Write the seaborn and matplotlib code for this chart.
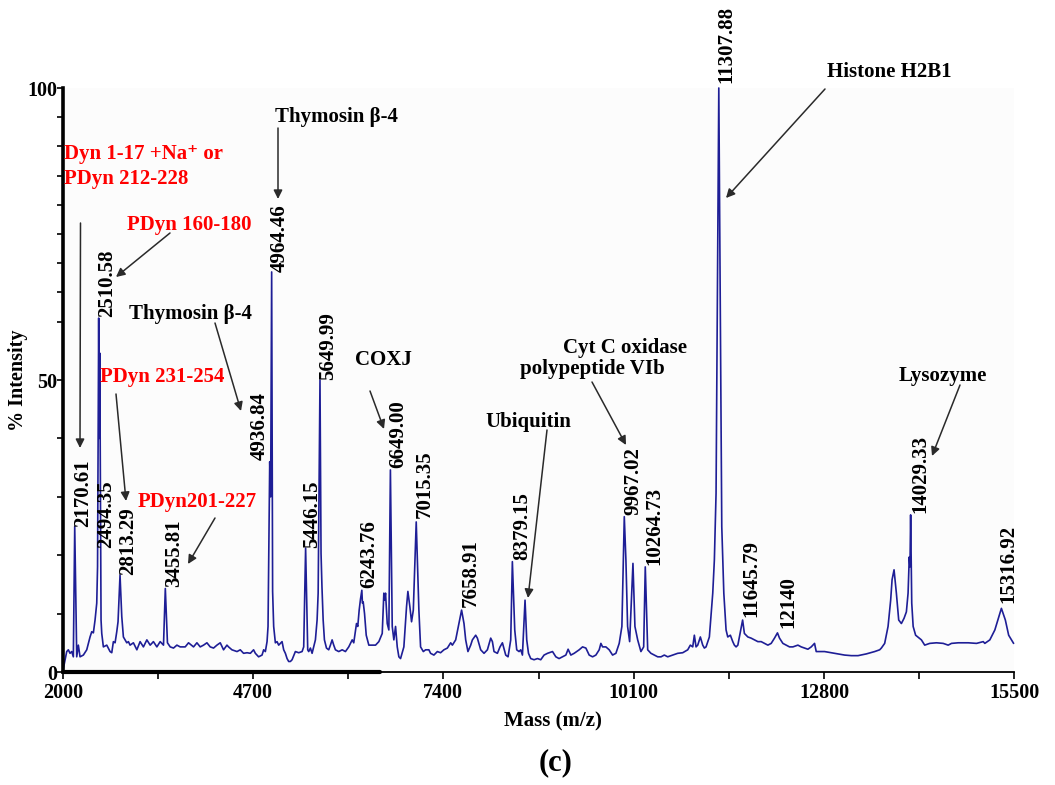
import matplotlib
matplotlib.use("Agg")
import matplotlib.pyplot as plt
import seaborn as sns
import numpy as np
import pandas as pd

# ---------------- data ----------------
# spectrum trace, split into segments (m/z , % intensity)
mz_a = [2000, 2057, 2080, 2104, 2128, 2151, 2170.61, 2199, 2222, 2246, 2293, 2341, 2388, 2412, 2435,
        2459, 2483, 2494.35, 2510.58, 2518, 2526, 2544, 2554, 2577, 2625, 2672, 2696, 2719, 2743, 2767,
        2785, 2813.29, 2838, 2861, 2909, 2932, 2956, 3003, 3052, 3098, 3145, 3194, 3241, 3287, 3336,
        3383, 3430, 3455.81, 3486, 3525, 3572, 3620, 3667, 3738, 3785, 3856, 3904, 3951, 3998, 4046,
        4093, 4140, 4188, 4235, 4282]
pct_a = [0.0, 3.5, 3.8, 3.2, 3.5, 2.6, 24.9, 2.6, 4.6, 2.6, 2.9, 3.8, 6.0, 6.9, 6.7,
         8.9, 11.8, 18.0, 60.6, 40.0, 54.6, 8.9, 6.6, 4.3, 4.6, 3.5, 3.3, 5.2, 5.0, 6.9,
         8.6, 16.6, 9.5, 6.0, 5.0, 5.2, 4.6, 5.0, 3.8, 5.2, 4.3, 5.5, 4.6, 5.2, 4.3,
         5.2, 4.6, 14.3, 5.0, 4.3, 4.1, 4.6, 4.3, 4.3, 5.0, 4.3, 5.0, 4.3, 4.6, 5.0,
         4.3, 4.1, 4.6, 5.0, 3.8]

mz_b = [4330, 4353, 4401, 4473, 4519, 4566, 4615, 4662, 4708, 4733, 4779, 4828, 4851, 4875, 4899,
        4913, 4936.84, 4950, 4964.46, 4978, 4993, 5017, 5041, 5064, 5112, 5135, 5159, 5183, 5206,
        5230, 5254, 5301, 5348, 5396, 5419, 5446.15, 5476, 5490, 5514, 5538, 5561, 5585, 5609, 5624,
        5649.99, 5665, 5678, 5695, 5713, 5742, 5774, 5798, 5822, 5845, 5869, 5916, 5965, 6011, 6058,
        6107, 6129, 6168, 6186, 6206, 6225, 6243.76, 6252, 6263, 6282, 6306, 6343, 6391, 6438, 6485,
        6533]
pct_b = [4.6, 4.3, 3.8, 3.5, 3.8, 3.2, 3.3, 3.2, 3.8, 3.2, 2.6, 2.9, 3.8, 3.5, 5.2,
         7.8, 36.0, 30.0, 68.5, 13.8, 7.8, 5.0, 5.2, 4.6, 5.2, 3.8, 3.2, 2.3, 1.8,
         1.8, 2.1, 3.5, 3.3, 3.5, 4.3, 21.2, 3.8, 3.5, 4.1, 3.2, 4.3, 5.5, 8.9, 13.5,
         50.0, 20.3, 14.6, 8.9, 5.5, 4.1, 3.8, 4.6, 5.5, 4.6, 3.8, 3.5, 3.8, 3.5, 4.3,
         5.5, 5.0, 8.3, 7.8, 10.6, 12.5, 14.0, 11.8, 12.0, 10.0, 6.3, 4.6, 4.6, 4.6, 5.2,
         6.6]

mz_c = [6556, 6566, 6580, 6604, 6627, 6649.00, 6675, 6698, 6722, 6746, 6769, 6793, 6840, 6878, 6897,
        6925, 6949, 6974, 7015.35, 7053, 7077, 7116, 7148, 7195, 7219, 7266, 7315, 7361, 7408, 7457,
        7504, 7528, 7575, 7621, 7658.91, 7693, 7717, 7749, 7788, 7812, 7859, 7883, 7930, 7977, 8025,
        8072, 8096, 8119, 8167, 8204, 8238, 8285, 8318, 8356, 8379.15, 8413, 8441, 8474, 8498, 8522,
        8559, 8583, 8608, 8640, 8687, 8736, 8782]
pct_c = [13.5, 12.3, 13.5, 8.3, 7.2, 34.6, 7.8, 5.5, 7.8, 4.3, 2.6, 2.3, 4.3, 11.2, 13.8,
         11.2, 8.6, 10.6, 25.7, 10.6, 4.3, 3.5, 3.8, 3.8, 3.2, 2.9, 3.5, 3.3, 3.8, 4.1,
         5.0, 4.6, 5.5, 8.3, 10.6, 8.3, 5.5, 3.5, 4.6, 5.5, 6.3, 5.8, 3.8, 3.2, 3.8,
         5.8, 5.2, 3.5, 3.2, 4.3, 5.0, 2.9, 2.6, 5.5, 18.9, 7.2, 3.8, 3.5, 3.8, 2.9,
         12.3, 5.5, 3.2, 2.3, 2.1, 2.3, 2.1]

mz_d = [8829, 8878, 8949, 8996, 9042, 9091, 9138, 9170, 9209, 9256, 9327, 9375, 9422, 9469, 9517,
        9564, 9611, 9635, 9659, 9706, 9753, 9801, 9848, 9895, 9933, 9967.02, 9990, 10014, 10043, 10090,
        10118, 10157, 10203, 10242, 10264.73, 10299, 10345, 10392, 10441, 10488, 10535, 10583, 10654,
        10725, 10796, 10867, 10904, 10938, 10961, 10985, 11009, 11046, 11080, 11103, 11127, 11174]
pct_d = [2.9, 3.2, 3.5, 2.6, 2.3, 2.6, 2.9, 3.9, 2.9, 3.2, 3.8, 4.3, 4.1, 2.9, 2.6,
         2.9, 3.8, 4.9, 4.3, 4.3, 3.8, 2.9, 3.2, 4.9, 7.8, 26.6, 19.2, 7.8, 5.2, 18.6,
         7.8, 5.5, 3.5, 4.3, 18.0, 3.8, 3.2, 2.9, 2.6, 2.6, 2.9, 2.6, 2.9,
         3.2, 3.3, 3.8, 4.6, 4.3, 6.3, 4.3, 4.6, 6.0, 4.6, 4.1, 4.3, 6.0]

mz_e = [11222, 11245, 11269, 11307.88, 11350, 11379, 11411, 11435, 11472, 11506, 11529, 11553, 11578,
        11600, 11645.79, 11671, 11720, 11766, 11813, 11862, 11909, 11955, 12004, 12051, 12098, 12140,
        12169, 12217, 12264, 12311, 12359, 12430, 12477, 12524, 12572, 12619, 12666, 12690, 12737,
        12808, 12903, 12999, 13092, 13188, 13283, 13401]
pct_e = [13.5, 19.2, 30.6, 100.0, 24.9, 13.5, 7.2, 6.0, 6.3, 5.2, 4.6, 4.3, 4.6,
         6.0, 8.9, 6.6, 6.0, 5.8, 5.5, 5.2, 5.2, 4.9, 4.6, 4.9, 5.8, 6.7,
         5.8, 4.9, 4.6, 4.3, 4.3, 4.6, 4.3, 4.1, 3.9, 4.3, 4.9, 3.5, 3.5,
         3.5, 3.3, 3.1, 2.9, 2.8, 2.8, 3.1]

mz_f = [13519, 13590, 13614, 13661, 13709, 13746, 13766, 13794, 13827, 13860, 13898, 13936, 13969,
        13993, 14010, 14020, 14029.33, 14045, 14065, 14100, 14182, 14229, 14300, 14396, 14491, 14562,
        14609, 14704, 14846, 14964, 15059, 15082, 15153, 15224, 15316.92, 15373, 15420, 15490]
pct_f = [3.5, 3.8, 4.1, 4.9, 7.8, 12.3, 15.8, 17.5, 13.5, 8.9, 8.3, 9.2, 10.3,
         13.5, 19.7, 18.0, 26.9, 11.8, 7.8, 6.3, 5.5, 4.6, 4.9, 5.0, 4.9, 4.6,
         4.9, 5.0, 5.0, 4.9, 5.2, 4.9, 5.5, 7.2, 10.9, 8.9, 6.3, 4.9]

# labelled peaks
peak_labels = ["2170.61", "2494.35", "2510.58", "2813.29", "3455.81", "4936.84", "4964.46",
               "5446.15", "5649.99", "6243.76", "6649.00", "7015.35", "7658.91", "8379.15",
               "9967.02", "10264.73", "11307.88", "11645.79", "12140", "14029.33", "15316.92"]
peak_mz = [2170.61, 2494.35, 2510.58, 2813.29, 3455.81, 4936.84, 4964.46, 5446.15, 5649.99,
           6243.76, 6649.00, 7015.35, 7658.91, 8379.15, 9967.02, 10264.73, 11307.88, 11645.79,
           12140, 14029.33, 15316.92]
peak_pct = [24.9, 18.0, 60.6, 16.6, 14.3, 36.0, 68.5, 21.2, 50.0, 14.0, 34.6, 25.7, 10.6, 18.9,
            26.6, 18.0, 100.0, 8.9, 6.7, 26.9, 10.9]

x_ticks = [2000, 4700, 7400, 10100, 12800, 15500]
y_ticks = [0, 50, 100]

# ---------------- layout / style ----------------
label_offsets = [(8, 0), (9, 19), (8, 1), (8, 0), (9, 1), (-10, 2), (8, 0), (7, 0), (8, 0),
                 (7, 2), (8, 2), (9, 4), (9, 3), (10, 2), (9, 2), (9, 2), (8, 5), (9, 3),
                 (11, 5), (10, 2), (7, 5)]

sns.set_theme(style="white")
plt.rcParams["font.family"] = ["Liberation Serif", "DejaVu Serif"]
plt.rcParams["font.weight"] = "bold"

W, H = 1055, 785
fig = plt.figure(figsize=(W / 100, H / 100), dpi=100)
fig.patch.set_facecolor("white")
ax = fig.add_axes([62.7 / W, (H - 672) / H, 951.6 / W, 584 / H])
ax.set_facecolor("#fcfcfc")

mz = mz_a + mz_b + mz_c + mz_d + mz_e + mz_f
pct = pct_a + pct_b + pct_c + pct_d + pct_e + pct_f
df = pd.DataFrame({"Mass (m/z)": mz, "% Intensity": pct})

line_color = "#1e1e96"
sns.lineplot(data=df, x="Mass (m/z)", y="% Intensity", ax=ax, color=line_color,
             lw=1.2, estimator=None, sort=False, clip_on=False)

ax.set_xlim(2000, 15500)
ax.set_ylim(0, 100)
ax.set_xticks(x_ticks)
ax.set_xticklabels([str(t) for t in x_ticks])
ax.set_xticks([3350, 6050, 8750, 11450, 14150], minor=True)
ax.set_yticks(y_ticks)
ax.set_yticklabels([str(t) for t in y_ticks])
ax.set_yticks([10, 20, 30, 40, 60, 65, 70, 75, 80, 85, 90, 95], minor=True)

for s in ("top", "right"):
    ax.spines[s].set_visible(False)
ax.spines["left"].set_linewidth(2.6)
ax.spines["left"].set_color("black")
ax.spines["bottom"].set_linewidth(1.3)
ax.spines["bottom"].set_color("black")
ax.axhline(0, xmin=0, xmax=0.333, color="black", lw=3.0, clip_on=False, zorder=5)

ax.tick_params(axis="x", which="both", direction="out", length=5, width=1.2, colors="black",
               labelsize=14.5, pad=3, bottom=True)
ax.tick_params(axis="y", which="both", direction="out", length=4, width=1.2, colors="black",
               labelsize=14.5, pad=0, left=True)
for lab in ax.get_xticklabels() + ax.get_yticklabels():
    lab.set_fontweight("bold")

ax.set_xlabel("Mass (m/z)", fontsize=15, fontweight="bold", color="black")
ax.xaxis.set_label_coords(0.5152, -0.068)
ax.set_ylabel("% Intensity", fontsize=14.5, fontweight="bold", color="black")
ax.yaxis.set_label_coords(-0.0365, 0.50)

# peak labels
for lab, x, y, (dx, dy) in zip(peak_labels, peak_mz, peak_pct, label_offsets):
    ax.annotate(lab, xy=(x, y), xytext=(dx, dy), textcoords="offset pixels",
                rotation=90, ha="center", va="bottom", fontsize=15, fontweight="bold",
                color="black", annotation_clip=False)


def fpx(x, y):
    return (x, H - y)


def ftext(x, y, s, color="black", ha="center", va="center", size=15):
    fig.text(x / W, 1 - y / H, s, color=color, ha=ha, va=va, fontsize=size,
             fontweight="bold", family=["Liberation Serif", "DejaVu Serif"])


def farrow(x0, y0, x1, y1):
    ax.annotate("", xy=fpx(x1, y1), xytext=fpx(x0, y0), xycoords="figure pixels",
                textcoords="figure pixels",
                arrowprops=dict(arrowstyle="-|>", color="#2a2a2a", lw=1.1,
                                mutation_scale=13, shrinkA=0, shrinkB=0))


red = "#ff0000"
ftext(64, 154, "Dyn 1-17 +Na\u207a or", color=red, ha="left")
ftext(64, 179, "PDyn 212-228", color=red, ha="left")
farrow(80.5, 223, 80, 448)

ftext(189.7, 225, "PDyn 160-180", color=red)
farrow(170, 233, 116, 277)

ftext(336, 117, "Thymosin \u03b2-4")
farrow(278, 128, 278, 199)

ftext(190, 314, "Thymosin \u03b2-4")
farrow(215, 323, 241, 411)

ftext(162.5, 377, "PDyn 231-254", color=red)
farrow(116, 394, 126, 501)

ftext(196.7, 502, "PDyn201-227", color=red)
farrow(215, 518, 188, 564)

ftext(383, 360, "COXJ")
farrow(370, 391, 384, 429)

ftext(528, 422, "Ubiquitin")
farrow(547, 430, 528, 598)

ftext(625, 348, "Cyt C oxidase")
ftext(592, 369, "polypeptide VIb")
farrow(592, 382, 626, 445)

ftext(889, 72, "Histone H2B1")
farrow(825, 89, 726, 198)

ftext(942.5, 376, "Lysozyme")
farrow(960, 385, 932, 456)

ftext(556, 763, "(c)", size=22)

fig.savefig("out.png", dpi=100, facecolor="white")
